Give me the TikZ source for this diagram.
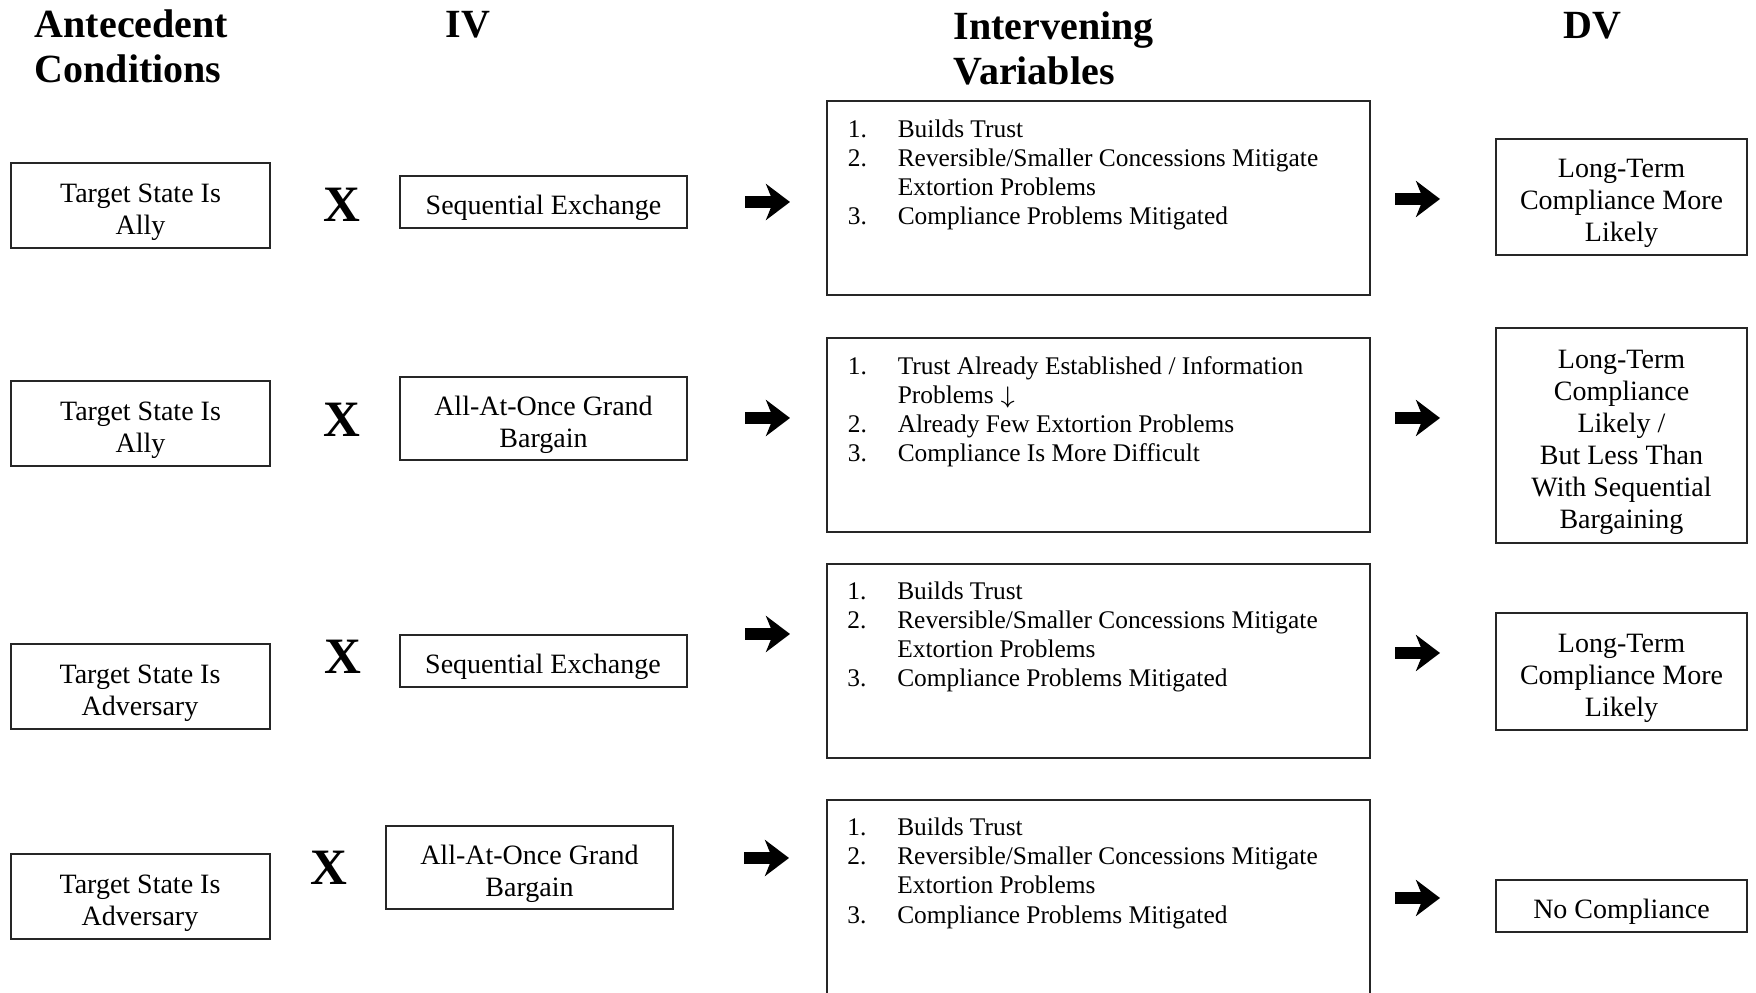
\documentclass[tikz,border=0pt]{standalone}
\usepackage{fontspec}
\setmainfont{Liberation Serif}
\usetikzlibrary{arrows.meta,positioning,calc}

\newcommand{\lift}{\rule{0pt}{7.8pt}}
\newcommand{\trustlist}{%
  \begin{tabular}[t]{@{}p{12.5pt}@{}l@{}}
    1. & Builds Trust\\
    2. & Reversible/Smaller Concessions Mitigate\\
       & Extortion Problems\\
    3. & Compliance Problems Mitigated
  \end{tabular}}

\begin{document}
\begin{tikzpicture}[
    x=0.25pt, y=-0.25pt,
    >=Stealth,
    box/.style={draw=black!85, line width=0.5pt, inner sep=1pt,
                font=\fontsize{7}{8}\selectfont, align=center},
    antebox/.style={box, minimum width=64.75pt, minimum height=21.25pt},
    ivbox/.style={box, minimum width=71.75pt, minimum height=#1},
    ivbox/.default=13pt,
    intbox/.style={box, minimum width=135.75pt, minimum height=#1},
    intbox/.default=48.5pt,
    dvbox/.style={box, minimum width=62.75pt, minimum height=#1},
    head/.style={font=\bfseries\fontsize{10}{11.25}\selectfont, inner sep=0pt},
    cross/.style={font=\bfseries\fontsize{12.75}{14}\selectfont, inner sep=0pt},
    items/.style={font=\fontsize{6.35}{7.25}\selectfont, inner sep=0pt, anchor=base west},
    bigarr/.style={-{Stealth[length=6pt, width=9pt, inset=1.8pt]}, line width=3pt},
  ]
  \clip (0,0) rectangle (1756,993);

  % column heads
  \node[head, anchor=base west] (hante) at (34,38)
    {\begin{tabular}[t]{@{}l@{}}Antecedent\\Conditions\end{tabular}};
  \node[head, anchor=base] (hiv) at (468,38) {IV};
  \node[head, anchor=base west] (hint) at (953,40)
    {\begin{tabular}[t]{@{}l@{}}Intervening\\Variables\end{tabular}};
  \node[head, anchor=base] (hdv) at (1592,39) {DV};

  % row 1
  \node[antebox] (ante1) at (140.5,205.5) {\lift Target State Is\\Ally};
  \node[cross] (x1) at (342,205) {X};
  \node[ivbox] (iv1) at (543.5,202) {\lift Sequential Exchange};
  \node[intbox] (int1) at (1098.5,198) {};
  \node[items] (list1) at ($(int1.north west)+(21,38)$) {\trustlist};
  \node[dvbox=29pt] (dv1) at (1621.5,197) {\lift Long-Term\\Compliance More\\Likely};

  % row 2
  \node[antebox] (ante2) at (140.5,424) {\lift Target State Is\\Ally};
  \node[cross] (x2) at (342,420) {X};
  \node[ivbox=20.75pt] (iv2) at (543.5,418.5) {\lift All-At-Once Grand\\Bargain};
  \node[intbox] (int2) at (1098.5,435) {};
  \node[items] (list2) at ($(int2.north west)+(21,38)$)
    {\begin{tabular}[t]{@{}p{12.5pt}@{}l@{}}
      1. & Trust Already Established / Information\\
         & Problems $\downarrow$\\
      2. & Already Few Extortion Problems\\
      3. & Compliance Is More Difficult
    \end{tabular}};
  \node[dvbox=53.75pt] (dv2) at (1621.5,435.5)
    {\lift Long-Term\\Compliance\\Likely /\\But Less Than\\With Sequential\\Bargaining};

  % row 3
  \node[antebox] (ante3) at (140,687) {\lift Target State Is\\Adversary};
  \node[cross] (x3) at (343,657) {X};
  \node[ivbox] (iv3) at (543,661) {\lift Sequential Exchange};
  \node[intbox] (int3) at (1098,661.5) {};
  \node[items] (list3) at ($(int3.north west)+(21,36)$) {\trustlist};
  \node[dvbox=29.25pt] (dv3) at (1621.5,671.5) {\lift Long-Term\\Compliance More\\Likely};

  % row 4
  \node[antebox] (ante4) at (140,896.5) {\lift Target State Is\\Adversary};
  \node[cross] (x4) at (329,868) {X};
  \node[ivbox=20.75pt] (iv4) at (529.5,867.5) {\lift All-At-Once Grand\\Bargain};
  \node[intbox=52.5pt] (int4) at (1098,905) {};
  \node[items] (list4) at ($(int4.north west)+(21,37)$) {\trustlist};
  \node[dvbox=13pt] (dv4) at (1621.5,906) {\lift No Compliance};

  % arrows
  \coordinate (a1) at (745,202);  \coordinate (b1) at (790,202);
  \coordinate (c1) at (1395,199); \coordinate (d1) at (1440,199);
  \coordinate (a2) at (745,418);  \coordinate (b2) at (790,418);
  \coordinate (c2) at (1395,418); \coordinate (d2) at (1440,418);
  \coordinate (a3) at (745,634);  \coordinate (b3) at (790,634);
  \coordinate (c3) at (1395,653); \coordinate (d3) at (1440,653);
  \coordinate (a4) at (744,858);  \coordinate (b4) at (789,858);
  \coordinate (c4) at (1395,898); \coordinate (d4) at (1440,898);
  \draw[bigarr] (a1) -- (b1);
  \draw[bigarr] (c1) -- (d1);
  \draw[bigarr] (a2) -- (b2);
  \draw[bigarr] (c2) -- (d2);
  \draw[bigarr] (a3) -- (b3);
  \draw[bigarr] (c3) -- (d3);
  \draw[bigarr] (a4) -- (b4);
  \draw[bigarr] (c4) -- (d4);
\end{tikzpicture}
\end{document}
